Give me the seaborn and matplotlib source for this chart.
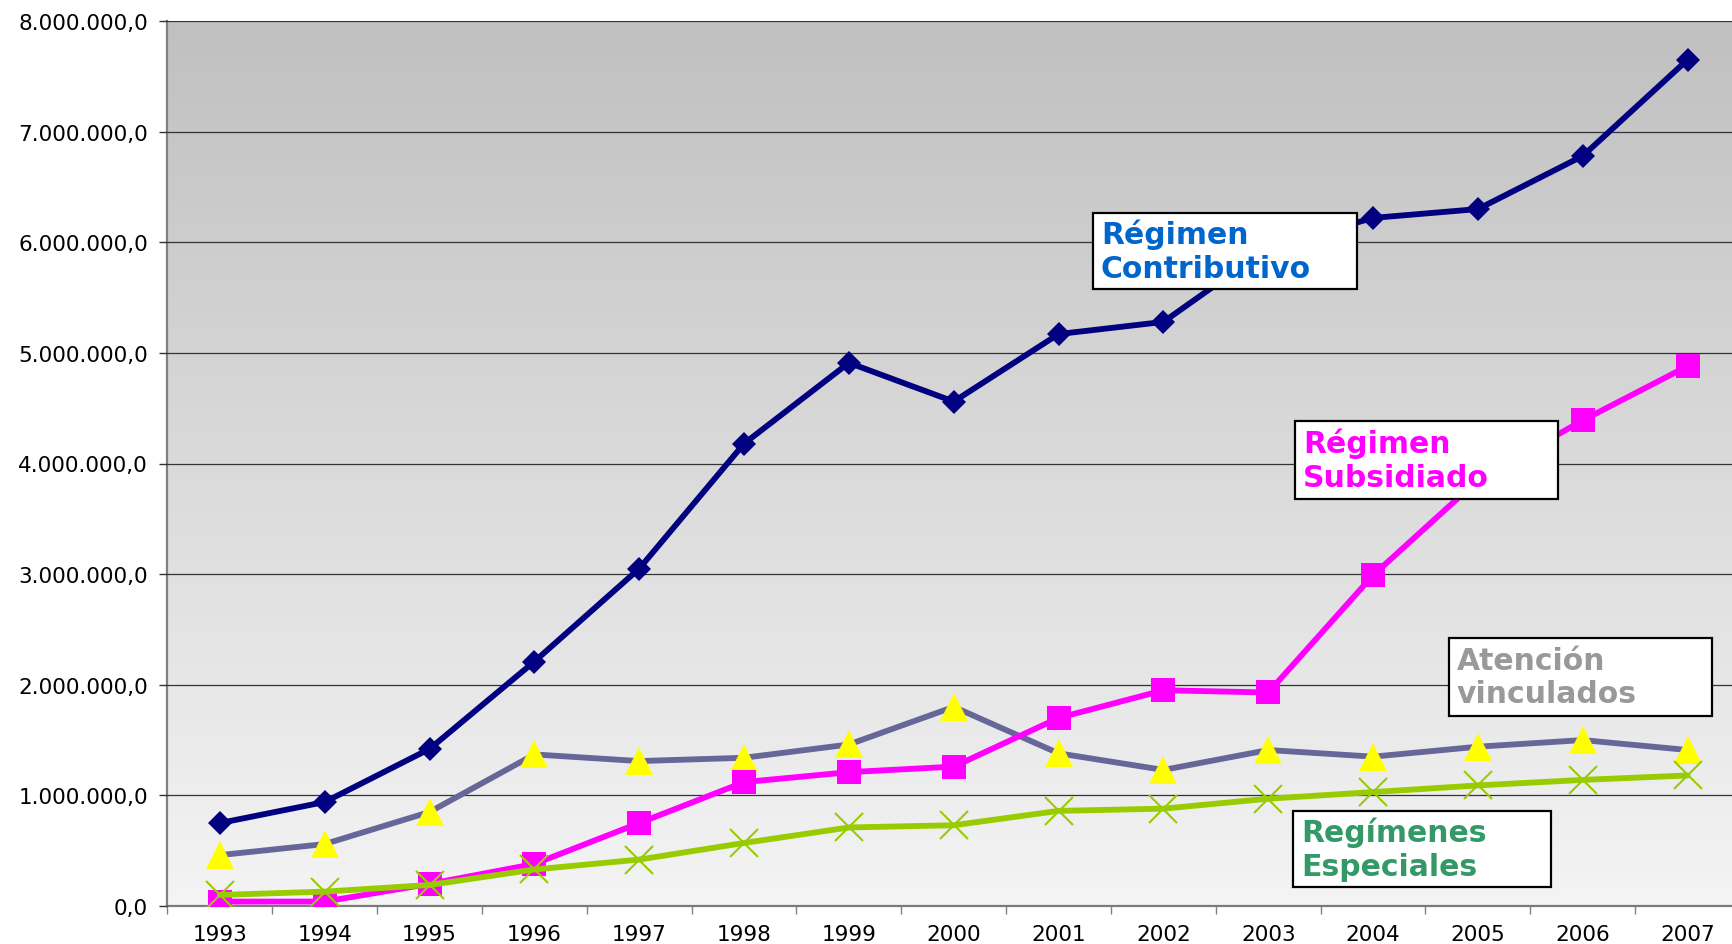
import numpy as np
import pandas as pd
import seaborn as sns
import matplotlib.pyplot as plt
from matplotlib.patches import Rectangle
from matplotlib.colors import LinearSegmentedColormap
from matplotlib.ticker import FuncFormatter, FixedLocator

years = [1993, 1994, 1995, 1996, 1997, 1998, 1999, 2000, 2001, 2002, 2003, 2004, 2005, 2006, 2007]
contributivo = [0.75, 0.94, 1.42, 2.21, 3.05, 4.18, 4.91, 4.56, 5.17, 5.28, 5.95, 6.22, 6.30, 6.78, 7.65]
subsidiado = [0.04, 0.04, 0.20, 0.38, 0.75, 1.12, 1.21, 1.26, 1.70, 1.95, 1.93, 2.99, 3.85, 4.39, 4.88]
vinculados = [0.46, 0.56, 0.85, 1.37, 1.31, 1.34, 1.46, 1.80, 1.38, 1.23, 1.41, 1.35, 1.44, 1.50, 1.41]
especiales = [0.10, 0.13, 0.19, 0.33, 0.42, 0.57, 0.71, 0.73, 0.86, 0.88, 0.97, 1.03, 1.09, 1.14, 1.18]

W, H = 1733, 945
sns.set_theme(style="white")
plt.rcParams['font.family'] = ['DejaVu Sans']

fig = plt.figure(figsize=(W / 100, H / 100), dpi=100)
# axes placed in pixel units of the reference
ax = fig.add_axes([167.5 / W, 1 - 907 / H, (1740 - 167.5) / W, (907 - 22) / H])

# grey gradient background
grad = np.linspace(0, 1, 256).reshape(-1, 1)
ax.imshow(grad, extent=[0, 1, 0, 1], transform=ax.transAxes, aspect='auto',
          cmap=LinearSegmentedColormap.from_list('bg', ['#f4f4f4', '#c0c0c0']),
          origin='lower', zorder=0)

x = np.arange(len(years))
df = pd.DataFrame({'x': x,
                   'contributivo': np.array(contributivo) * 1e6,
                   'subsidiado': np.array(subsidiado) * 1e6,
                   'vinculados': np.array(vinculados) * 1e6,
                   'especiales': np.array(especiales) * 1e6})

lw = 4.2
sns.lineplot(data=df, x='x', y='contributivo', ax=ax, color='#000080', lw=lw,
             marker='D', markersize=12.5, markeredgewidth=0, zorder=3)
sns.lineplot(data=df, x='x', y='vinculados', ax=ax, color='#666699', lw=lw,
             marker='^', markersize=20, markerfacecolor='#ffff00', markeredgewidth=0, zorder=3)
sns.lineplot(data=df, x='x', y='subsidiado', ax=ax, color='#ff00ff', lw=lw,
             marker='s', markersize=17, markeredgewidth=0, zorder=4)
sns.lineplot(data=df, x='x', y='especiales', ax=ax, color='#99cc00', lw=lw,
             marker='x', markersize=20, markeredgewidth=1.5, markeredgecolor='#99cc00', zorder=5)

ax.set_xlim(-0.5, len(years) - 0.5)
ax.set_ylim(0, 8e6)
ax.set_xlabel('')
ax.set_ylabel('')

ax.set_yticks(np.arange(0, 8.5e6, 1e6))
ax.yaxis.set_major_formatter(FuncFormatter(
    lambda v, p: f"{v:,.1f}".replace(',', 'X').replace('.', ',').replace('X', '.')))
ax.set_xticks(x)
ax.set_xticklabels([str(y) for y in years])
ax.xaxis.set_minor_locator(FixedLocator(np.arange(-0.5, len(years), 1)))

ax.grid(axis='y', color='#333333', lw=0.9, zorder=1)
ax.set_axisbelow(False)
ax.tick_params(axis='y', which='major', left=True, length=6, width=1, color='#333333',
               labelsize=15.5, pad=8, labelcolor='black')
ax.tick_params(axis='x', which='major', bottom=False, length=0, labelsize=15.5, pad=13,
               labelcolor='black')
ax.tick_params(axis='x', which='minor', bottom=True, length=6, width=1, color='#808080')

for s in ['top', 'right']:
    ax.spines[s].set_visible(False)
ax.spines['left'].set_color('#808080')
ax.spines['left'].set_linewidth(1.6)
ax.spines['bottom'].set_color('#808080')
ax.spines['bottom'].set_linewidth(1.6)

# label boxes (pixel coords of the reference)
boxes = [
    ((1093, 214, 1357, 290), "Régimen\nContributivo", '#0066cc'),
    ((1295, 422, 1558, 500), "Régimen\nSubsidiado", '#ff00ff'),
    ((1449, 639, 1712, 717), "Atención\nvinculados", '#999999'),
    ((1293, 812, 1551, 888), "Regímenes\nEspeciales", '#339966'),
]
for (x0, y0, x1, y1), txt, col in boxes:
    fig.add_artist(Rectangle((x0 / W, 1 - y1 / H), (x1 - x0) / W, (y1 - y0) / H,
                             transform=fig.transFigure, facecolor='white',
                             edgecolor='black', lw=1.6, zorder=10))
    fig.text((x0 + 8) / W, 1 - (y0 + y1) / 2 / H, txt, color=col, fontsize=21.5,
             fontweight='bold', ha='left', va='center', linespacing=1.2, zorder=11)

fig.savefig('out.png', dpi=100)
